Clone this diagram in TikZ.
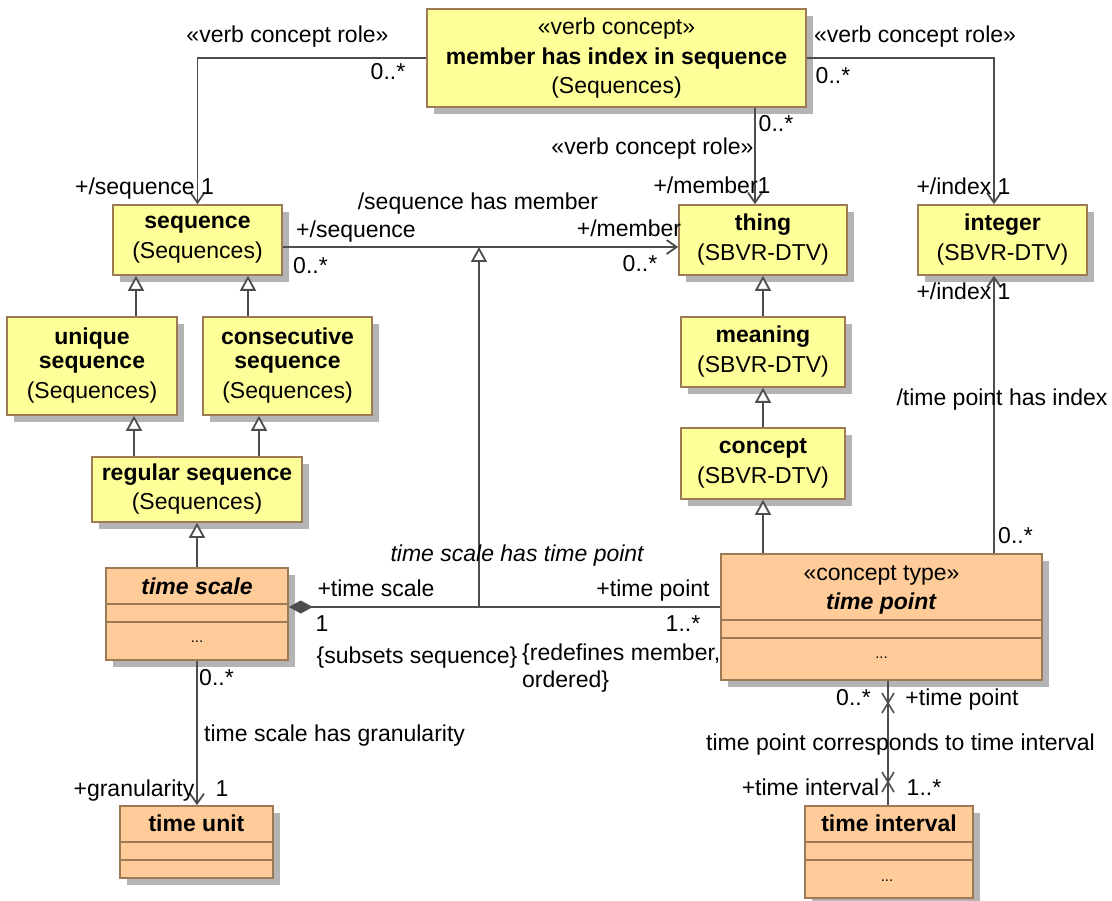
\documentclass[tikz,border=0pt]{standalone}
\usepackage{fontspec}
\setmainfont{Liberation Sans}
\usetikzlibrary{arrows.meta,shadows}
\definecolor{yel}{HTML}{FFFF99}
\definecolor{org}{HTML}{FFCC99}
\definecolor{brd}{HTML}{9C7A55}
\definecolor{shd}{HTML}{B4B4B4}
\definecolor{ln}{HTML}{4D4D4D}
\begin{document}
\begin{tikzpicture}[x=1pt,y=-1pt,
  font=\fontsize{23}{24}\selectfont,
  cls/.style={draw=brd,line width=1.6pt,inner sep=0pt,align=center,
     drop shadow={shadow xshift=7pt,shadow yshift=-7pt,fill=shd,opacity=1}},
  ycls/.style={cls,fill=yel},
  ocls/.style={cls,fill=org},
  conn/.style={draw=ln,line width=1.8pt},
  nav/.style={conn,-{Straight Barb[length=10pt,width=14pt]}},
  gen/.style={conn,-{Triangle[length=15pt,width=16pt,fill=white]}},
  comp/.style={conn,{Diamond[length=24pt,width=13pt,fill=ln]}-},
  lbl/.style={inner sep=0pt,text height=16pt,text depth=0pt},
  sepl/.style={draw=brd,line width=1.6pt},
  dots/.style={inner sep=0pt,font=\fontsize{15}{16}\selectfont},
]
\useasboundingbox (0,0) rectangle (1112,901);
\fill[white] (0,0) rectangle (1112,901);

% classes
\node[ycls,minimum width=379pt,minimum height=98pt] (member) at (616.5,58)
  {«verb concept»\\[6pt]\textbf{member has index in sequence}\\[5pt](Sequences)};
\node[ycls,minimum width=169pt,minimum height=70pt] (seq) at (197.5,240) {\textbf{sequence}\\[6pt](Sequences)};
\node[ycls,minimum width=168pt,minimum height=70pt] (thing) at (763,240) {\textbf{thing}\\[6pt](SBVR-DTV)};
\node[ycls,minimum width=169pt,minimum height=70pt] (integer) at (1002.5,240) {\textbf{integer}\\[6pt](SBVR-DTV)};
\node[ycls,minimum width=170pt,minimum height=98pt] (unique) at (92,366) {\textbf{unique}\\\textbf{sequence}\\[6pt](Sequences)};
\node[ycls,minimum width=169pt,minimum height=98pt] (consec) at (287.5,366) {\textbf{consecutive}\\\textbf{sequence}\\[6pt](Sequences)};
\node[ycls,minimum width=210pt,minimum height=65pt] (regular) at (197,489.5) {\textbf{regular sequence}\\[5pt](Sequences)};
\node[ycls,minimum width=164pt,minimum height=70pt] (meaning) at (763,352) {\textbf{meaning}\\[6pt](SBVR-DTV)};
\node[ycls,minimum width=164pt,minimum height=71pt] (concept) at (763,463.5) {\textbf{concept}\\[6pt](SBVR-DTV)};
\node[ocls,minimum width=182pt,minimum height=92pt] (ts) at (197,614) {};
\node[ocls,minimum width=321pt,minimum height=126pt] (tp) at (881.5,617) {};
\node[ocls,minimum width=153pt,minimum height=72pt] (tu) at (196.5,842) {};
\node[ocls,minimum width=168pt,minimum height=92pt] (ti) at (889,852) {};

% compartments
\draw[sepl] (ts.west |- 0,604) -- (ts.east |- 0,604) (ts.west |- 0,622) -- (ts.east |- 0,622);
\draw[sepl] (tp.west |- 0,620) -- (tp.east |- 0,620) (tp.west |- 0,638) -- (tp.east |- 0,638);
\draw[sepl] (tu.west |- 0,842) -- (tu.east |- 0,842) (tu.west |- 0,860) -- (tu.east |- 0,860);
\draw[sepl] (ti.west |- 0,842) -- (ti.east |- 0,842) (ti.west |- 0,860) -- (ti.east |- 0,860);
\node[lbl] (tsname) at (197,586) {\textbf{\textit{time scale}}};
\node[dots,anchor=base] (tsdots) at (197,642) {...};
\node[lbl] (tpst) at (881.5,572) {«concept type»};
\node[lbl] (tpname) at (881.5,601) {\textbf{\textit{time point}}};
\node[dots,anchor=base] (tpdots) at (881.5,658) {...};
\node[lbl] (tuname) at (196.5,823) {\textbf{time unit}};
\node[lbl] (tiname) at (889,823) {\textbf{time interval}};
\node[dots,anchor=base] (tidots) at (887,881) {...};

% connectors
\coordinate (intTop) at ([xshift=-8.5pt]integer.north);
\coordinate (thTop) at ([xshift=-8pt]thing.north);
\draw[nav] (member.west) -| (seq.north);
\draw[nav] (member.east) -| (intTop);
\draw[nav] (member.south -| thTop) -- (thTop);
\draw[nav] ([yshift=-7pt]seq.east) -- ([yshift=-7pt]thing.west);
\coordinate (a1) at (479,607);
\coordinate (a2) at (479,247);
\draw[gen] (a1) -- (a2);
\draw[gen] (unique.north -| 136,0) -- (seq.south -| 136,0);
\draw[gen] (consec.north -| 248,0) -- (seq.south -| 248,0);
\draw[gen] (regular.north -| 134,0) -- (unique.south -| 134,0);
\draw[gen] (regular.north -| 259,0) -- (consec.south -| 259,0);
\draw[gen] (ts.north) -- (regular.south);
\draw[gen] (meaning.north) -- (thing.south);
\draw[gen] (concept.north) -- (meaning.south);
\draw[gen] (tp.north -| concept.south) -- (concept.south);
\draw[nav] (tp.north -| intTop) -- (integer.south -| intTop);
\draw[comp] (ts.east |- a1) -- (tp.west |- a1);
\draw[nav] (ts.south) -- (ts.south |- tu.north);
\draw[conn] (tp.south -| 888,0) -- (ti.north -| 888,0);
\coordinate (x1) at (888,703);
\coordinate (x2) at (888,782);
\draw[conn,line width=1.6pt] ([shift={(-6,-10)}]x1) -- ([shift={(6,10)}]x1) ([shift={(6,-10)}]x1) -- ([shift={(-6,10)}]x1);
\draw[conn,line width=1.6pt] ([shift={(-6,-10)}]x2) -- ([shift={(6,10)}]x2) ([shift={(6,-10)}]x2) -- ([shift={(-6,10)}]x2);

% labels
\node[lbl] (l1) at (287.5,35) {«verb concept role»};
\node[lbl] (l2) at (388,72) {0..*};
\node[lbl] (l3) at (144.5,187) {+/sequence 1};
\node[lbl] (l4) at (915,35) {«verb concept role»};
\node[lbl] (l5) at (833,76) {0..*};
\node[lbl] (l6) at (776,124) {0..*};
\node[lbl] (l7) at (652.5,147) {«verb concept role»};
\node[lbl] (l8) at (712,186) {+/member1};
\node[lbl] (l9) at (478,202) {/sequence has member};
\node[lbl] (l10) at (356,230) {+/sequence};
\node[lbl] (l11) at (310.5,266) {0..*};
\node[lbl] (l12) at (629,229) {+/member};
\node[lbl] (l13) at (640,264) {0..*};
\node[lbl] (l14) at (963.5,187) {+/index 1};
\node[lbl] (l15) at (963.5,292) {+/index 1};
\node[lbl] (l16) at (1002,398) {/time point has index};
\node[lbl] (l17) at (1015.5,535) {0..*};
\node[lbl] (l18) at (517.5,553) {\textit{time scale has time point}};
\node[lbl] (l19) at (376,588) {+time scale};
\node[lbl] (l20) at (653,588) {+time point};
\node[lbl] (l21) at (322,623) {1};
\node[lbl] (l22) at (683,623) {1..*};
\node[lbl] (l23) at (417,655) {\{subsets sequence\}};
\node[lbl,anchor=west] (l24) at (522,652) {\{redefines member,};
\node[lbl,anchor=west] (l25) at (522,679) {ordered\}};
\node[lbl] (l26) at (216.5,677) {0..*};
\node[lbl,anchor=west] (l27) at (204,733) {time scale has granularity};
\node[lbl] (l28) at (134,788) {+granularity};
\node[lbl] (l29) at (222,788) {1};
\node[lbl] (l30) at (853.5,697) {0..*};
\node[lbl] (l31) at (962,697) {+time point};
\node[lbl] (l32) at (900.5,742) {time point corresponds to time interval};
\node[lbl] (l33) at (810.5,787) {+time interval};
\node[lbl] (l34) at (924,787) {1..*};
\end{tikzpicture}
\end{document}
